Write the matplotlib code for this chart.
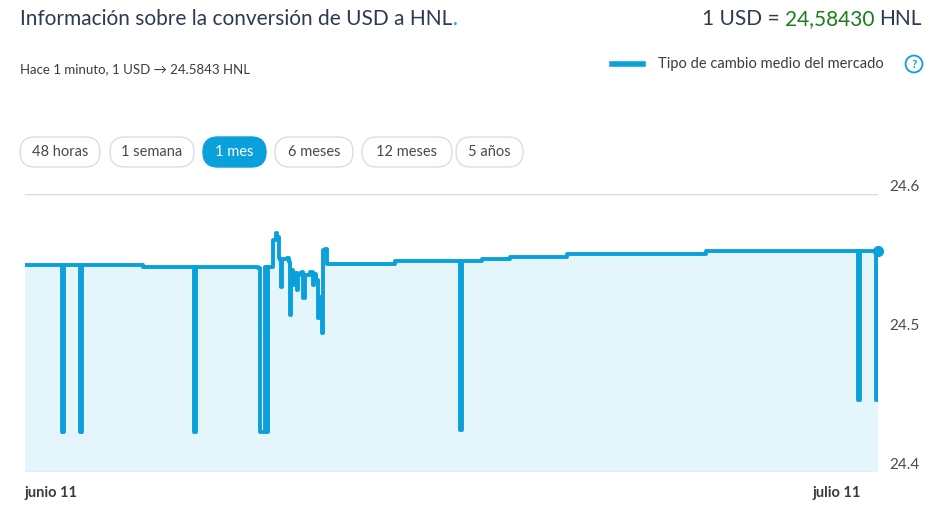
import matplotlib.pyplot as plt
from matplotlib.patches import FancyBboxPatch

plt.rcParams['font.family'] = ['Lato', 'DejaVu Sans']

# days since junio 11 / USD->HNL rate
days = [0.0, 1.23, 1.30, 1.37, 1.86, 1.93, 2.00, 4.15, 5.87, 5.94, 6.01,
        8.20, 8.27, 8.44, 8.51, 8.55, 8.69, 8.72, 8.83, 8.86, 8.93, 8.97, 9.00,
        9.04, 9.11, 9.22, 9.29, 9.32, 9.36, 9.43, 9.46, 9.57, 9.60, 9.67, 9.74,
        9.78, 9.85, 9.95, 10.02, 10.13, 10.17, 10.24, 10.31, 10.34, 10.45, 10.48,
        10.55, 10.62, 13.01, 15.23, 15.30, 15.37, 16.07, 17.06, 19.06, 23.95,
        29.23, 29.30, 29.37, 29.44, 29.86, 29.93, 30.0]
rates = [24.5490, 24.5490, 24.4288, 24.5490, 24.5490, 24.4288, 24.5490, 24.5475,
         24.5475, 24.4288, 24.5475,
         24.5468, 24.4288, 24.5475, 24.4288, 24.5475, 24.5475, 24.5669, 24.5719,
         24.5691, 24.5540, 24.5525, 24.5331, 24.5532, 24.5532, 24.5540, 24.5511,
         24.5129, 24.5453, 24.5345, 24.5432, 24.5309, 24.5417, 24.5432, 24.5439,
         24.5252, 24.5417, 24.5417, 24.5439, 24.5345, 24.5425, 24.5380, 24.5108,
         24.5259, 24.5000, 24.5597, 24.5604, 24.5496, 24.5518, 24.5518, 24.4302,
         24.5518, 24.5532, 24.5547, 24.5568, 24.5590,
         24.5590, 24.4518, 24.5590, 24.5590, 24.5590, 24.4518, 24.5590]
yticks = [24.4, 24.5, 24.6]
ranges = ["48 horas", "1 semana", "1 mes", "6 meses", "12 meses", "5 años"]
range_x = [(20, 100), (110, 194), (203, 266), (275, 353), (362, 452), (456, 523)]

W, H = 940, 516
blue = '#0aa0db'
dark = '#2e3a4e'
fig = plt.figure(figsize=(W / 100, H / 100), dpi=100)
ax = fig.add_axes([25 / W, 1 - 472 / H, (878 - 25) / W, (472 - 194) / H])

ax.fill_between(days, rates, 24.4, color='#e4f5fc', lw=0, step='post')
ax.plot(days, rates, color=blue, lw=2.8, drawstyle='steps-post', solid_joinstyle='round')
ax.plot(days[-1], rates[-1], 'o', color=blue, ms=7, clip_on=False)
ax.set_xlim(0, 30)
ax.set_ylim(24.4, 24.6)
ax.set_yticks(yticks)
ax.set_yticklabels([f"{v:.1f}" for v in yticks])
ax.yaxis.tick_right()
ax.tick_params(axis='y', length=0, pad=8, labelsize=11, labelcolor='#4a4a4a')
for t in ax.get_yticklabels():
    t.set_verticalalignment('bottom')
ax.set_xticks([0, 28.56])
ax.set_xticklabels(["junio 11", "julio 11"], fontsize=10.5, fontweight='bold', color='#3c3c3c')
ax.get_xticklabels()[0].set_horizontalalignment('left')
ax.tick_params(axis='x', length=0, pad=10)
ax.grid(axis='y', color='#d9d9d9', lw=1)
for s in ax.spines.values():
    s.set_visible(False)
ax.axhline(24.4, color='#d9d9d9', lw=1)
ax.set_axisbelow(True)

# overlay in pixel coordinates
ov = fig.add_axes([0, 0, 1, 1])
ov.set_xlim(0, W)
ov.set_ylim(H, 0)
ov.axis('off')

t1 = ov.text(20, 19, "Información sobre la conversión de USD a HNL", fontsize=15, color=dark, va='center')
fig.canvas.draw()
r = fig.canvas.get_renderer()
ex = t1.get_window_extent(r)
ov.annotate(".", xy=(ex.x1, ex.y0), xycoords='figure pixels', fontsize=15, color=blue, va='bottom')

t3 = ov.text(922, 19, "HNL", fontsize=15, color=dark, va='center', ha='right')
ex3 = t3.get_window_extent(r)
ov.annotate("24,58430 ", xy=(ex3.x0, 1 - 19 / H), xycoords=('figure pixels', 'figure fraction'),
            fontsize=15, color='#1a7f1a', va='center', ha='right')
ov.text(785, 19, "1 USD = ", fontsize=15, color=dark, va='center', ha='right')

ov.text(20, 69, "Hace 1 minuto, 1 USD → 24.5843 HNL", fontsize=9.5, color='#3c3c3c', va='center')
ov.plot([612, 643], [64, 64], color=blue, lw=4)
ov.text(658, 64, "Tipo de cambio medio del mercado", fontsize=10.5, color='#3c3c3c', va='center')
ov.text(914, 64, "?", fontsize=8.5, color=blue, va='center', ha='center', fontweight='bold',
        bbox=dict(boxstyle='circle,pad=0.25', fc='white', ec=blue, lw=1.3))

for label, (x0, x1) in zip(ranges, range_x):
    active = label == "1 mes"
    box = FancyBboxPatch((x0, 137), x1 - x0, 30, boxstyle='round,pad=0,rounding_size=15',
                         fc=blue if active else 'white',
                         ec=blue if active else '#dddddd', lw=1)
    ov.add_patch(box)
    ov.text((x0 + x1) / 2, 152, label, fontsize=10.5, ha='center', va='center',
            color='white' if active else '#4a4a4a')

fig.savefig("out.png", dpi=100)
